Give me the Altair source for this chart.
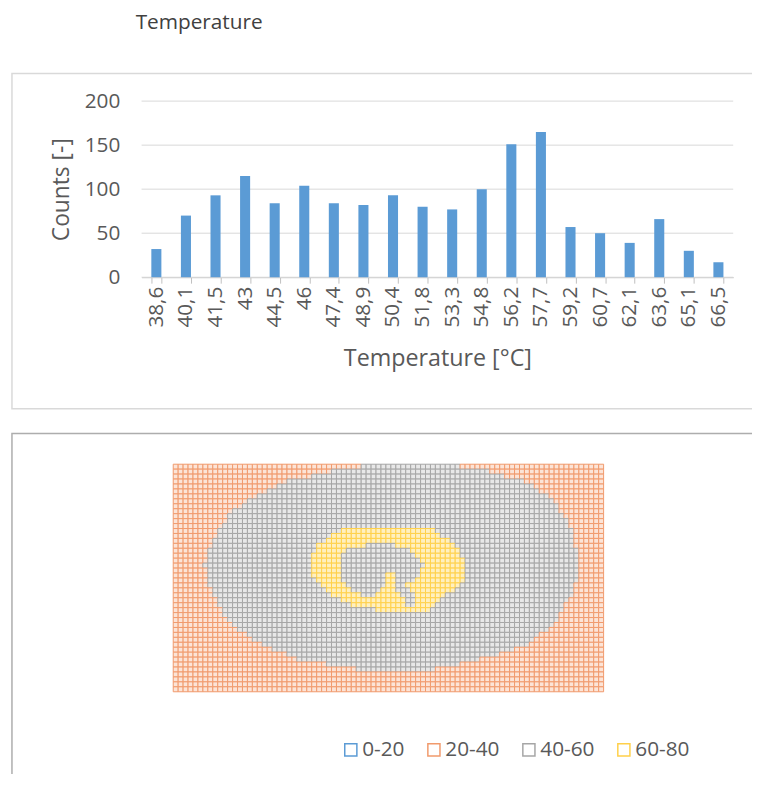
import altair as alt
import pandas as pd

# ---------------- histogram data ----------------
temp_labels = ["38,6", "40,1", "41,5", "43", "44,5", "46", "47,4", "48,9", "50,4", "51,8",
               "53,3", "54,8", "56,2", "57,7", "59,2", "60,7", "62,1", "63,6", "65,1", "66,5"]
counts = [32, 70, 93, 115, 84, 104, 84, 82, 93, 80, 77, 100, 151, 165, 57, 50, 39, 66, 30, 17]
y_ticks = [0, 50, 100, 150, 200]

# ---------------- surface (top view) data ----------------
bands = ["0-20", "20-40", "40-60", "60-80"]
band_line = ["#5B9BD5", "#F19A6C", "#A6A6A6", "#FFD04A"]
band_fill = ["#DEEBF7", "#FCE4D7", "#E8E8E8", "#FFF0C0"]

n_cols, n_rows = 87, 46
# 40-60 region (grey ellipse): column extent per row, rows 0..41
grey_left = [38.0, 32.0, 27.8, 23.4, 21.0, 18.8, 16.6, 14.8, 13.6, 12.4, 11.4, 10.6, 9.8, 9.0,
              8.6, 8.0, 7.6, 7.2, 7.0, 6.6, 6.4, 6.6, 6.8, 7.0, 7.4, 7.8, 8.2, 8.6, 9.2, 9.8,
              10.4, 11.4, 12.4, 13.4, 14.8, 16.2, 17.6, 19.8, 22.6, 25.4, 31.0, 37.0]
grey_right = [58.0, 63.6, 67.4, 71.2, 72.8, 74.2, 75.6, 76.8, 77.6, 78.4, 79.0, 79.6, 80.0, 80.6,
               80.8, 81.2, 81.4, 81.6, 81.8, 82.0, 82.0, 82.0, 81.8, 81.6, 81.2, 81.0, 80.6, 80.2,
               79.4, 78.8, 78.4, 77.6, 76.6, 75.6, 74.4, 73.0, 71.8, 69.2, 65.6, 62.0, 58.0, 53.0]
# 60-80 ring, outer extent
ring_rows = [13, 14, 15, 16, 17, 18, 19, 20, 21, 22, 23, 24, 25, 26, 27, 28, 29]
ring_left = [34.0, 31.6, 30.6, 29.4, 28.8, 28.4, 28.2, 28.0, 28.0, 28.4, 29.0, 30.0, 31.0, 32.4, 34.2, 36.4, 41.0]
ring_right = [53.0, 54.4, 55.6, 57.0, 58.0, 58.4, 58.8, 59.0, 59.0, 59.0, 58.6, 58.0, 57.0, 55.4, 54.2, 53.0, 51.6]
# 40-60 hole inside the ring
hole_rows = [16, 17, 18, 19, 20, 21, 22, 23, 24, 25, 26]
hole_left = [39.0, 35.4, 34.2, 33.6, 33.6, 33.6, 34.0, 34.4, 34.8, 36.0, 38.0]
hole_right = [44.6, 48.0, 49.4, 50.4, 50.6, 50.4, 50.0, 49.0, 43.4, 42.0, 41.0]
# 40-60 notch cutting into the ring at the bottom
notch_rows = [24, 25, 26, 27, 28]
notch_left = [45.0, 45.4, 46.0, 47.0, 47.4]
notch_right = [47.4, 48.0, 49.0, 49.4, 49.0]
# small 60-80 island inside the hole
blob_rows = [22, 23]
blob_left = [43.0, 43.0]
blob_right = [45.0, 45.0]


def spans(rows, lefts, rights):
    return {r: (a, b) for r, a, b in zip(rows, lefts, rights)}


regions = [
    (spans(range(len(grey_left)), grey_left, grey_right), "40-60"),
    (spans(ring_rows, ring_left, ring_right), "60-80"),
    (spans(hole_rows, hole_left, hole_right), "40-60"),
    (spans(notch_rows, notch_left, notch_right), "40-60"),
    (spans(blob_rows, blob_left, blob_right), "60-80"),
]

cells = []
for r in range(n_rows):
    for c in range(n_cols):
        xc = c + 0.5
        band = "20-40"
        for sp, b in regions:
            if r in sp and sp[r][0] <= xc <= sp[r][1]:
                band = b
        cells.append({"c": c, "c2": c + 1, "r": r, "r2": r + 1, "band": band})
cells_df = pd.DataFrame(cells)

hist_df = pd.DataFrame({"temp": temp_labels, "count": counts})
grid_df = pd.DataFrame({"count": y_ticks})
one = pd.DataFrame({"a": [0]})

FONT = "Open Sans"
LBL = "#595959"
W, H = 752, 766

# ---------------- decoration ----------------
box1 = alt.Chart(one).mark_rect(fillOpacity=0, stroke="#D9D9D9", strokeWidth=1.5).encode(
    x=alt.value(4), x2=alt.value(900), y=alt.value(62), y2=alt.value(401))
box2 = alt.Chart(one).mark_rect(fillOpacity=0, stroke="#ADADAD", strokeWidth=1.5).encode(
    x=alt.value(4), x2=alt.value(900), y=alt.value(426), y2=alt.value(900))
title = alt.Chart(one).mark_text(text="Temperature", align="left", baseline="middle",
                                 font=FONT, fontSize=21, color="#404040").encode(
    x=alt.value(129), y=alt.value(11))

# ---------------- histogram ----------------
y_axis = alt.Axis(orient="left", offset=-135, values=y_ticks, grid=False, domain=False, ticks=False,
                  tickSize=0, labelPadding=22, labelFont=FONT, labelFontSize=21, labelColor=LBL,
                  title="Counts [-]", titleFont=FONT, titleFontSize=23, titleFontWeight="normal",
                  titleColor=LBL, titleX=-81, titleBaseline="middle")
y_scale = alt.Scale(domain=[0, 200], range=[268, 90], nice=False, zero=True)

rules = alt.Chart(grid_df).mark_rule(color="#D9D9D9", strokeWidth=1).encode(
    y=alt.Y("count:Q", scale=y_scale, axis=y_axis),
    x=alt.value(135), x2=alt.value(733))

bars = alt.Chart(hist_df).mark_bar(color="#5B9BD5").encode(
    x=alt.X("temp:N", sort=temp_labels,
            scale=alt.Scale(range=[135, 733], paddingInner=0.66, paddingOuter=0.33),
            axis=alt.Axis(orient="bottom", offset=268 - H, grid=False, domainColor="#BFBFBF",
                          domainWidth=1, ticks=True, tickBand="extent", tickSize=6,
                          tickColor="#BFBFBF", labelAngle=-90, labelPadding=3, labelFont=FONT,
                          labelFontSize=21, labelColor=LBL, labelOverlap=False,
                          title="Temperature [°C]", titleFont=FONT, titleFontSize=23.5,
                          titleFontWeight="normal", titleColor=LBL, titleY=82,
                          titleBaseline="middle")),
    y=alt.Y("count:Q", scale=y_scale, axis=y_axis),
)
hist = alt.layer(rules, bars)

# ---------------- surface top view ----------------
surface = alt.Chart(cells_df).mark_rect(strokeWidth=1).encode(
    x=alt.X("c:Q", scale=alt.Scale(domain=[0, n_cols], range=[167, 602], nice=False, zero=False), axis=None),
    x2="c2:Q",
    y=alt.Y("r:Q", scale=alt.Scale(domain=[0, n_rows], range=[457, 687], nice=False, zero=False), axis=None),
    y2="r2:Q",
    fill=alt.Fill("band:N", scale=alt.Scale(domain=bands[1:], range=band_fill[1:]), legend=None),
    stroke=alt.Stroke("band:N", scale=alt.Scale(domain=bands, range=band_line),
                      legend=alt.Legend(title=None, orient="none", legendX=336, legendY=735,
                                        direction="horizontal", symbolType="square",
                                        symbolSize=150, symbolStrokeWidth=1.5,
                                        symbolFillColor="white", labelFont=FONT,
                                        labelFontSize=21, labelColor=LBL, labelOffset=1,
                                        columnPadding=19, padding=0)),
)

chart = alt.layer(box1, box2, title, hist, surface).resolve_scale(
    x="independent", y="independent"
).properties(
    width=W, height=H, autosize=alt.AutoSizeParams(type="none"), padding=0
).configure_view(stroke=None)

chart.save("out.html", embed_options={"renderer": "svg", "actions": False})
